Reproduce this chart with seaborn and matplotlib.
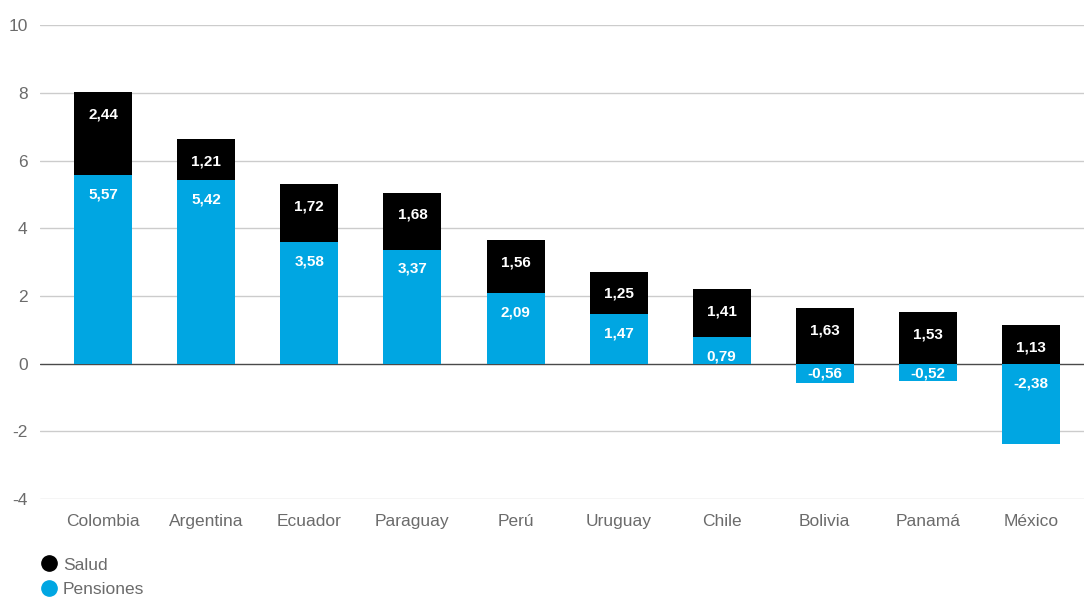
import numpy as np
import pandas as pd
import matplotlib
matplotlib.use('Agg')
import matplotlib.pyplot as plt
import seaborn as sns
from matplotlib.lines import Line2D

# datos
paises = ['Colombia', 'Argentina', 'Ecuador', 'Paraguay', 'Perú',
          'Uruguay', 'Chile', 'Bolivia', 'Panamá', 'México']
salud = [2.44, 1.21, 1.72, 1.68, 1.56, 1.25, 1.41, 1.63, 1.53, 1.13]
pensiones = [5.57, 5.42, 3.58, 3.37, 2.09, 1.47, 0.79, -0.56, -0.52, -2.38]
yticks = [-4, -2, 0, 2, 4, 6, 8, 10]

negro = '#000000'
azul = '#00A6E2'
gris = '#6b6b6b'

sns.set_theme(style='white')
plt.rcParams['font.family'] = ['Liberation Sans', 'DejaVu Sans']
plt.rcParams['axes.unicode_minus'] = False

df = pd.DataFrame({'pais': paises, 'salud': salud, 'pensiones': pensiones})
df['tope'] = df['pensiones'].clip(lower=0) + df['salud']

fig = plt.figure(figsize=(10.84, 5.97), dpi=100)
ax = fig.add_axes([0.037, 0.164, 0.963, 0.794])

for y in yticks:
    ax.axhline(y, color='#4a4a4a' if y == 0 else '#cccccc', lw=1, zorder=0)

# salud apilada sobre pensiones (o sobre cero si pensiones es negativo)
sns.barplot(data=df, x='pais', y='tope', color=negro, saturation=1,
            width=0.5625, linewidth=0, ax=ax, zorder=2)
sns.barplot(data=df, x='pais', y='pensiones', color=azul, saturation=1,
            width=0.5625, linewidth=0, ax=ax, zorder=3)

px_per_unit = 0.794 * 597 / 14
for i, row in df.iterrows():
    ax.annotate(f"{row['salud']:.2f}".replace('.', ','), (i, row['tope']),
                xytext=(0, -16), textcoords='offset points', ha='center', va='center',
                color='white', fontsize=11, fontweight='bold', zorder=5)
    top_p = max(row['pensiones'], 0)
    off = 14
    if row['pensiones'] < 0:
        off = min(14, abs(row['pensiones']) * px_per_unit / 2 * 0.72 + 0.5)
    ax.annotate(f"{row['pensiones']:.2f}".replace('.', ','), (i, top_p),
                xytext=(0, -off), textcoords='offset points', ha='center', va='center',
                color='white', fontsize=11, fontweight='bold', zorder=5)

ax.set_ylim(-4, 10)
ax.set_xlim(-0.611, 9.514)
ax.set_yticks(yticks)
ax.set_xlabel('')
ax.set_ylabel('')
ax.tick_params(axis='y', length=0, labelsize=12.5, labelcolor=gris, pad=9)
ax.tick_params(axis='x', length=0, labelsize=12.5, labelcolor=gris, pad=11)
sns.despine(ax=ax, left=True, bottom=True, top=True, right=True)

handles = [Line2D([], [], marker='o', ls='', color=negro, markersize=11, label='Salud'),
           Line2D([], [], marker='o', ls='', color=azul, markersize=11, label='Pensiones')]
fig.legend(handles=handles, loc='lower left', bbox_to_anchor=(0.03, -0.012), frameon=False,
           fontsize=12.5, labelcolor=gris, handletextpad=0.25, labelspacing=0.55,
           handlelength=1.1, borderaxespad=0)

fig.savefig('out.png', dpi=100)
